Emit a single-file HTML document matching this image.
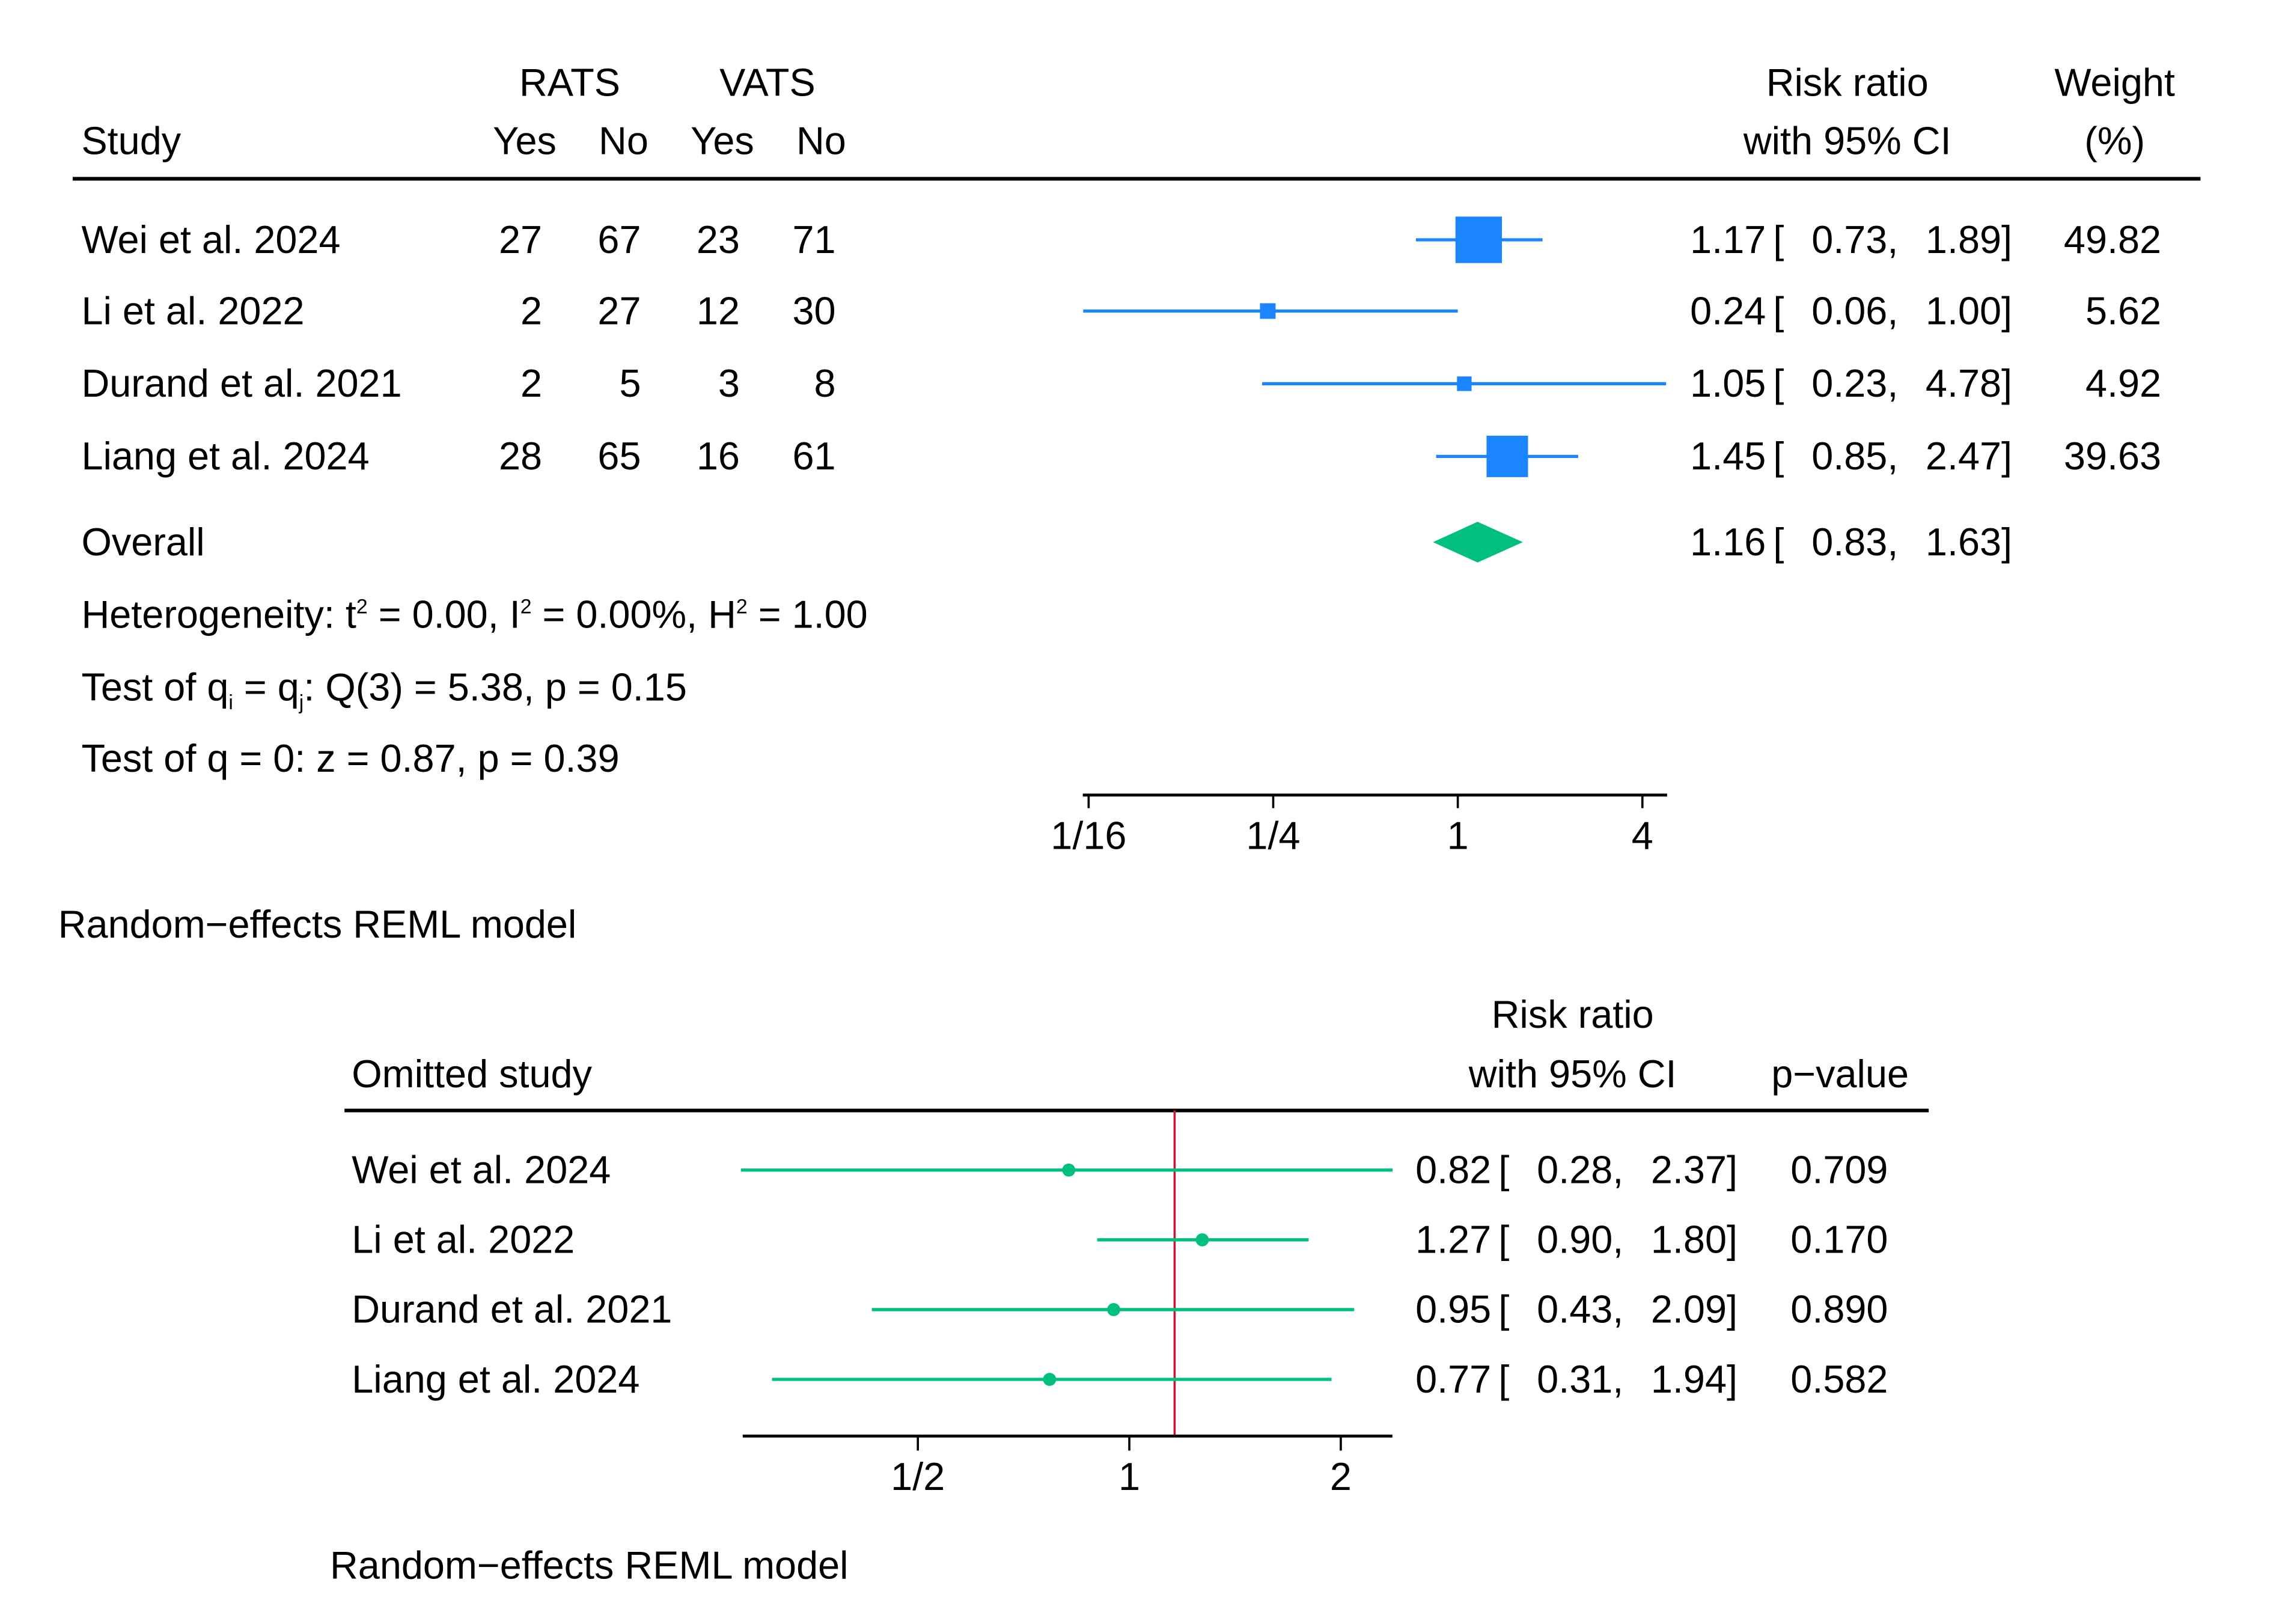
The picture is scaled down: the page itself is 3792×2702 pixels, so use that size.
<!DOCTYPE html>
<html><head><meta charset="utf-8">
<style>
html,body{margin:0;padding:0;background:#fff;}
svg{display:block;}
text{font-family:"Liberation Sans",sans-serif;fill:#000;font-size:26.8px;}
</style></head>
<body>
<svg id="chart" width="3792" height="2702" viewBox="0 0 1568 1117.3" xmlns="http://www.w3.org/2000/svg">
<rect width="1568" height="1118" fill="#fff"/>
<g id="top">
<text x="392" y="66" text-anchor="middle">RATS</text>
<text x="528" y="66" text-anchor="middle">VATS</text>
<text x="56" y="106">Study</text>
<text x="361" y="106" text-anchor="middle">Yes</text>
<text x="429" y="106" text-anchor="middle">No</text>
<text x="497" y="106" text-anchor="middle">Yes</text>
<text x="565" y="106" text-anchor="middle">No</text>
<text x="1271" y="66" text-anchor="middle">Risk ratio</text>
<text x="1271" y="106" text-anchor="middle">with 95% CI</text>
<text x="1455" y="66" text-anchor="middle">Weight</text>
<text x="1455" y="106" text-anchor="middle">(%)</text>
<line x1="50" x2="1514" y1="123" y2="123" stroke="#000" stroke-width="2.5"/>
<text x="56" y="382">Overall</text>
<text x="56" y="432">Heterogeneity: t<tspan dy="-10" font-size="14">2</tspan><tspan dy="10"> = 0.00, I</tspan><tspan dy="-10" font-size="14">2</tspan><tspan dy="10"> = 0.00%, H</tspan><tspan dy="-10" font-size="14">2</tspan><tspan dy="10"> = 1.00</tspan></text>
<text x="56" y="482">Test of q<tspan dy="6" font-size="14">i</tspan><tspan dy="-6"> = q</tspan><tspan dy="6" font-size="14">j</tspan><tspan dy="-6">: Q(3) = 5.38, p = 0.15</tspan></text>
<text x="56" y="531">Test of q = 0: z = 0.87, p = 0.39</text>
<text x="40" y="645">Random−effects REML model</text>
</g>
<g id="bottom">
<text x="1082" y="707" text-anchor="middle">Risk ratio</text>
<text x="242" y="748">Omitted study</text>
<text x="1082" y="748" text-anchor="middle">with 95% CI</text>
<text x="1266" y="748" text-anchor="middle">p−value</text>
<line x1="237" x2="1327" y1="764" y2="764" stroke="#000" stroke-width="2.5"/>
<text x="227" y="1086">Random−effects REML model</text>
</g>
</svg>
<script>
var studies = ["Wei et al. 2024","Li et al. 2022","Durand et al. 2021","Liang et al. 2024"];
var ratsYes = [27,2,2,28];
var ratsNo = [67,27,5,65];
var vatsYes = [23,12,3,16];
var vatsNo = [71,30,8,61];
var rr = [1.17,0.24,1.05,1.45];
var rrLo = [0.73,0.06,0.23,0.85];
var rrHi = [1.89,1.00,4.78,2.47];
var weights = [49.82,5.62,4.92,39.63];
var overall = [1.16,0.83,1.63];
var topTicks = [1/16,1/4,1,4];
var topTickLabels = ["1/16","1/4","1","4"];
var looRR = [0.82,1.27,0.95,0.77];
var looLo = [0.28,0.90,0.43,0.31];
var looHi = [2.37,1.80,2.09,1.94];
var looP = ["0.709","0.170","0.890","0.582"];
var bottomTicks = [0.5,1,2];
var bottomTickLabels = ["1/2","1","2"];

var NS="http://www.w3.org/2000/svg";
function mk(tag,attrs,parent,txt){var e=document.createElementNS(NS,tag);for(var k in attrs)e.setAttribute(k,attrs[k]);if(txt!==undefined)e.textContent=txt;parent.appendChild(e);return e;}
function xTop(v){return 1003+63.5*Math.log2(v);}
function xBot(v){return 777+145.5*Math.log2(v);}
var topG=document.getElementById('top'), botG=document.getElementById('bottom');
var BLUE="#1a85ff", GREEN="#00bf7f";
var rowY=[165,214,264,314];
function f2(v){return v.toFixed(2);}

studies.forEach(function(s,i){
  var y=rowY[i];
  var t=mk('text',{x:56,y:y+9},topG,s);
  
  
  [[ratsYes,373],[ratsNo,441],[vatsYes,509],[vatsNo,575]].forEach(function(c){
    var n=mk('text',{x:c[1],y:y+9,'text-anchor':'end'},topG,String(c[0][i]));
    
    
  });
  var l=mk('line',{x1:xTop(rrLo[i]),x2:xTop(rrHi[i]),y1:y,y2:y,stroke:BLUE,'stroke-width':2.2},topG);
  
  
  var sd=4.53*Math.sqrt(weights[i]);
  var b=mk('rect',{x:xTop(rr[i])-sd/2,y:y-sd/2,width:sd,height:sd,fill:BLUE},topG);
  
  
  var e=mk('text',{x:1215,y:y+9,'text-anchor':'end'},topG,f2(rr[i]));
  
  
  var br=mk('text',{x:1220,y:y+9},topG,'[');
  
  
  var lo=mk('text',{x:1306,y:y+9,'text-anchor':'end'},topG,f2(rrLo[i])+',');
  
  
  var hi=mk('text',{x:1377,y:y+9,'text-anchor':'end'},topG,f2(rrHi[i]));
  
  
  var br2=mk('text',{x:1377,y:y+9},topG,']');
  
  
  var w=mk('text',{x:1487,y:y+9,'text-anchor':'end'},topG,f2(weights[i]));
  
  
});
(function(){
  var y=373;
  var d=mk('polygon',{points:[xTop(overall[1])+','+y, xTop(overall[0])+','+(y-14), xTop(overall[2])+','+y, xTop(overall[0])+','+(y+14)].join(' '),fill:GREEN},topG);
  
  
  var vals=[[1215,'end',f2(overall[0])],[1220,'start','['],[1306,'end',f2(overall[1])+','],[1377,'end',f2(overall[2])],[1377,'start',']']];
  vals.forEach(function(v){
    var t=mk('text',{x:v[0],y:y+9,'text-anchor':v[1]},topG,v[2]);
    
    
  });
})();
var ax=mk('line',{x1:745,x2:1147,y1:547,y2:547,stroke:'#000','stroke-width':2},topG);


topTicks.forEach(function(v,i){
  var tk=mk('line',{x1:xTop(v),x2:xTop(v),y1:547,y2:556,stroke:'#000','stroke-width':1.5},topG);
  
  
  var tl=mk('text',{x:xTop(v),y:584,'text-anchor':'middle'},topG,topTickLabels[i]);
  
  
});

var looY=[805,853,901,949];
var ref=mk('line',{x1:xBot(overall[0]),x2:xBot(overall[0]),y1:764,y2:988,stroke:'#c4183c','stroke-width':1.5},botG);


studies.forEach(function(s,i){
  var y=looY[i];
  var t=mk('text',{x:242,y:y+9},botG,s);
  
  
  var l=mk('line',{x1:xBot(looLo[i]),x2:xBot(looHi[i]),y1:y,y2:y,stroke:GREEN,'stroke-width':2.2},botG);
  
  
  var c=mk('circle',{cx:xBot(looRR[i]),cy:y,r:4.5,fill:GREEN},botG);
  
  
  var vals=[[1026,'end',f2(looRR[i])],[1031,'start','['],[1117,'end',f2(looLo[i])+','],[1188,'end',f2(looHi[i])],[1188,'start',']'],[1299,'end',looP[i]]];
  vals.forEach(function(v){
    var tt=mk('text',{x:v[0],y:y+9,'text-anchor':v[1]},botG,v[2]);
    
    
  });
});
var ax2=mk('line',{x1:511,x2:958,y1:988,y2:988,stroke:'#000','stroke-width':2},botG);


bottomTicks.forEach(function(v,i){
  var tk=mk('line',{x1:xBot(v),x2:xBot(v),y1:988,y2:998,stroke:'#000','stroke-width':1.5},botG);
  
  
  var tl=mk('text',{x:xBot(v),y:1025,'text-anchor':'middle'},botG,bottomTickLabels[i]);
  
  
});
</script>
</body></html>
